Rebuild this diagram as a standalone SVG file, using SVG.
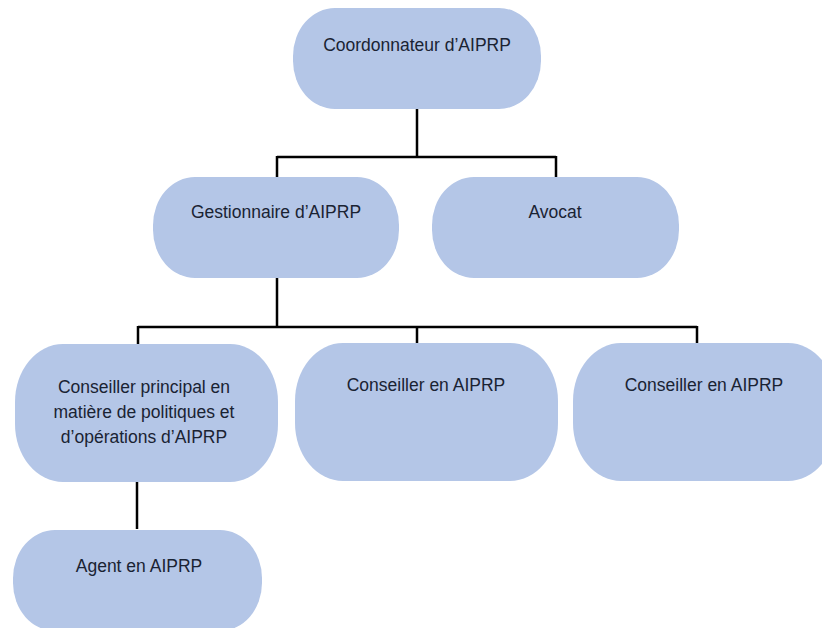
<svg xmlns="http://www.w3.org/2000/svg" width="822" height="628" viewBox="0 0 822 628">
<style>
.box{fill:#b4c6e7;}
.lbl{font-family:"Liberation Sans",Arial,sans-serif;font-size:17.5px;fill:#1a2333;text-anchor:middle;}
.conn{fill:none;stroke:#000;stroke-width:2.5;}
</style>
<rect width="822" height="628" fill="#fff"/>
<g id="connectors">
<path class="conn" d="M417 109 V157 M277 157 H556 M277 156 V177 M556 156 V177"/>
<path class="conn" d="M277 277 V327 M138 327 H697 M138 326 V344 M417 326 V343 M697 326 V343"/>
<path class="conn" d="M137 482 V529"/>
</g>
<g id="coordonnateur">
<rect class="box" x="293" y="8" width="248" height="101" rx="42" ry="48"/>
<text class="lbl" x="417" y="51">Coordonnateur d’AIPRP</text>
</g>
<g id="gestionnaire">
<rect class="box" x="153" y="177" width="246" height="101" rx="42" ry="48"/>
<text class="lbl" x="276" y="218">Gestionnaire d’AIPRP</text>
</g>
<g id="avocat">
<rect class="box" x="432" y="177" width="247" height="101" rx="42" ry="48"/>
<text class="lbl" x="555" y="218">Avocat</text>
</g>
<g id="conseiller-principal">
<rect class="box" x="15" y="344" width="263" height="138" rx="48" ry="58"/>
<text class="lbl" x="144" y="393">Conseiller principal en</text>
<text class="lbl" x="144" y="418">matière de politiques et</text>
<text class="lbl" x="144" y="443">d’opérations d’AIPRP</text>
</g>
<g id="conseiller-1">
<rect class="box" x="295" y="343" width="263" height="138" rx="48" ry="58"/>
<text class="lbl" x="426" y="391">Conseiller en AIPRP</text>
</g>
<g id="conseiller-2">
<rect class="box" x="573" y="343" width="263" height="138" rx="48" ry="58"/>
<text class="lbl" x="704" y="391">Conseiller en AIPRP</text>
</g>
<g id="agent">
<rect class="box" x="13" y="530" width="249" height="101" rx="42" ry="48"/>
<text class="lbl" x="139" y="572">Agent en AIPRP</text>
</g>
</svg>
